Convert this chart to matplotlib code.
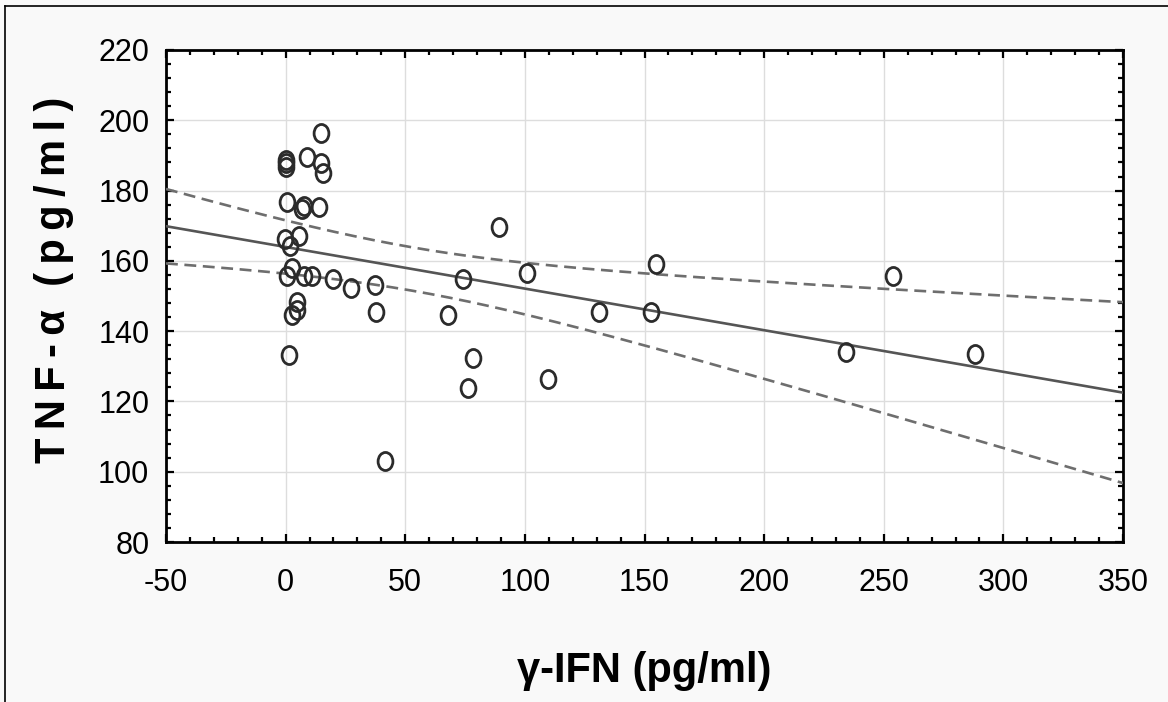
import numpy as np
import matplotlib
matplotlib.use('Agg')
import matplotlib.pyplot as plt
from matplotlib.path import Path
from matplotlib.lines import Line2D
from matplotlib.ticker import MultipleLocator

# gamma-IFN (pg/ml) vs TNF-alpha (pg/ml)
ifn = [14.9, 0.0, 0.3, 0.3, 8.8, 14.8, 15.8, 0.5, 6.7, 7.8,
       14.0, -0.2, 5.7, 1.8, 2.8, 0.5, 7.8, 10.9, 19.9, 27.2,
       37.4, 4.9, 4.6, 2.5, 37.8, 1.5, 41.5, 68.0, 74.3, 78.2,
       76.1, 89.3, 100.8, 109.8, 131.1, 152.6, 154.7, 234.2, 253.7, 288.3]
tnf = [196.3, 188.7, 187.8, 186.8, 189.5, 187.9, 185.1, 176.7, 174.8, 175.6,
       175.4, 166.1, 167.1, 164.2, 157.9, 155.8, 155.8, 155.8, 154.8, 152.2,
       153.1, 148.2, 146.0, 144.6, 145.5, 133.2, 103.0, 144.6, 154.8, 132.3,
       123.7, 169.5, 156.6, 126.4, 145.4, 145.4, 159.1, 134.1, 155.7, 133.4]

x_ticks = [-50, 0, 50, 100, 150, 200, 250, 300, 350]
y_ticks = [80, 100, 120, 140, 160, 180, 200, 220]

FONT = ['Liberation Sans Narrow', 'Liberation Sans', 'DejaVu Sans']
T_95 = 2.024  # t quantile, df = 38
THIN = '\u2009'


def fit_line(x, y, grid):
    x = np.asarray(x)
    y = np.asarray(y)
    n = len(x)
    slope, intercept = np.polyfit(x, y, 1)
    resid = y - (slope * x + intercept)
    s = np.sqrt(np.sum(resid ** 2) / (n - 2))
    sxx = np.sum((x - x.mean()) ** 2)
    fit = slope * grid + intercept
    half = T_95 * s * np.sqrt(1.0 / n + (grid - x.mean()) ** 2 / sxx)
    return fit, fit - half, fit + half


def main():
    plt.rcParams['font.family'] = FONT
    plt.rcParams['axes.unicode_minus'] = False
    fig = plt.figure(figsize=(11.68, 7.02), dpi=100, facecolor='#f9f9f9')
    ax = fig.add_axes([0.1421, 0.2279, 0.8194, 0.7009])
    ax.set_facecolor('white')

    grid = np.linspace(x_ticks[0], x_ticks[-1], 200)
    fit, lo, hi = fit_line(ifn, tnf, grid)
    ax.plot(grid, fit, color='#555555', lw=1.9, zorder=3)
    for band in (lo, hi):
        ax.plot(grid, band, color='#6e6e6e', lw=1.9, dashes=(4.5, 2.5), zorder=3)

    ellipse = Path.unit_circle().transformed(
        matplotlib.transforms.Affine2D().scale(0.82, 1.0))
    ax.plot(ifn, tnf, ls='none', marker=ellipse, markersize=13,
            mfc='none', mec='#2b2b2b', mew=2.0, zorder=4)

    ax.set_xlim(x_ticks[0], x_ticks[-1])
    ax.set_ylim(y_ticks[0], y_ticks[-1])
    ax.set_xticks(x_ticks)
    ax.set_yticks(y_ticks)
    ax.xaxis.set_minor_locator(MultipleLocator(10))
    ax.yaxis.set_minor_locator(MultipleLocator(4))
    ax.grid(True, which='major', color='#dddddd', lw=1.0, zorder=0)
    ax.set_axisbelow(True)
    ax.tick_params(which='both', direction='in', top=True, right=True,
                   width=1.6, color='black')
    ax.tick_params(which='major', length=5.5, labelsize=22)
    ax.tick_params(which='minor', length=3.5)
    ax.tick_params(axis='x', which='major', pad=19)
    ax.tick_params(axis='y', which='major', pad=12)
    for sp in ax.spines.values():
        sp.set_linewidth(2.0)

    ylabel = THIN.join('TNF-α') + '  ' + THIN.join('(pg/ml)')
    fig.text(54 / 1168, 1 - 280 / 702, ylabel, rotation=90,
             ha='center', va='center', fontsize=30, fontweight='bold')
    fig.text(644 / 1168, 1 - 682 / 702, 'γ-IFN (pg/ml)', ha='center',
             va='baseline', fontsize=30, fontweight='bold')

    # frame line on the left and top edges
    fig.add_artist(Line2D([5 / 1168, 5 / 1168], [0, 1 - 6 / 702],
                          transform=fig.transFigure, color='black', lw=1.2))
    fig.add_artist(Line2D([5 / 1168, 1], [1 - 6 / 702, 1 - 6 / 702],
                          transform=fig.transFigure, color='black', lw=1.2))

    fig.savefig('out.png', dpi=100, facecolor=fig.get_facecolor())


if __name__ == '__main__':
    main()
